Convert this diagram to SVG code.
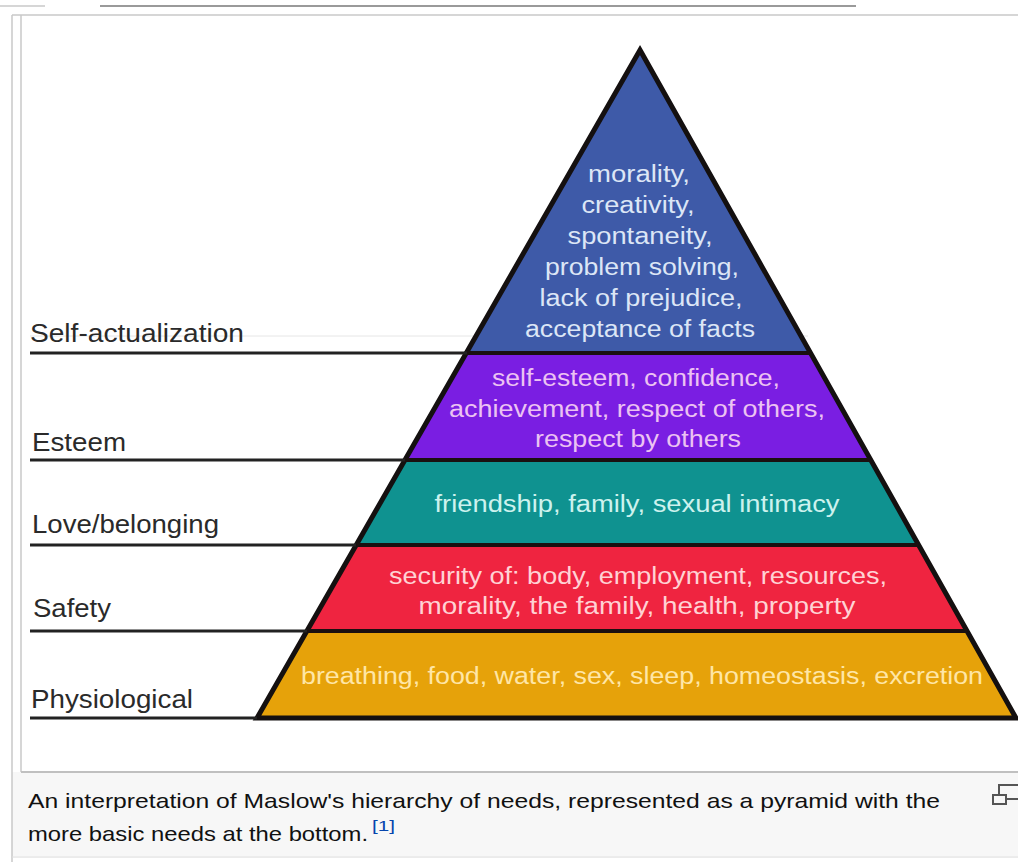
<svg xmlns="http://www.w3.org/2000/svg" width="1018" height="862" viewBox="0 0 1018 862">
<style>
.lbl{font-family:"Liberation Sans",Arial,sans-serif;font-size:26px;fill:#2a2a2a}
.in{font-family:"Liberation Sans",Arial,sans-serif;font-size:23px;text-anchor:middle}
.cap{font-family:"Liberation Sans",Arial,sans-serif;font-size:21px;fill:#111}
.frame{stroke:#c8c8c8;stroke-width:1.5;fill:none}
.lead{stroke:#222;stroke-width:3}
.sep{stroke:#1a1010;stroke-width:4}
</style>
<rect x="0" y="0" width="1018" height="862" fill="#ffffff"/>
<rect x="12" y="772" width="1006" height="86" fill="#f7f7f7"/>
<g id="frame">
<line x1="0" y1="6" x2="45" y2="6" class="frame"/>
<line x1="100" y1="6" x2="856" y2="6" stroke="#9a9a9a" stroke-width="2"/>
<line x1="12" y1="15" x2="1018" y2="15" class="frame"/>
<line x1="12" y1="15" x2="12" y2="862" class="frame"/>
<line x1="21" y1="15" x2="21" y2="772" class="frame"/>
<line x1="21" y1="772" x2="1018" y2="772" stroke="#c0c0c0" stroke-width="2"/>
<line x1="12" y1="857" x2="1018" y2="857" stroke="#e0e0e0" stroke-width="1"/>
<line x1="30" y1="336" x2="808" y2="336" stroke="#e6e6e6" stroke-width="1"/>
</g>
<g id="band-self-actualization">
<polygon points="640,50 810.6,353 466.3,353" fill="#3e5aa8"/>
<g class="in" fill="#dce6f6">
<text x="639" y="182" textLength="102" lengthAdjust="spacingAndGlyphs">morality,</text>
<text x="638" y="213" textLength="113" lengthAdjust="spacingAndGlyphs">creativity,</text>
<text x="640" y="244" textLength="145" lengthAdjust="spacingAndGlyphs">spontaneity,</text>
<text x="642" y="275" textLength="194" lengthAdjust="spacingAndGlyphs">problem solving,</text>
<text x="641" y="306" textLength="203" lengthAdjust="spacingAndGlyphs">lack of prejudice,</text>
<text x="640" y="337" textLength="230" lengthAdjust="spacingAndGlyphs">acceptance of facts</text>
</g>
</g>
<g id="band-esteem">
<polygon points="466.3,353 810.6,353 870.8,460 404.9,460" fill="#7a1ee2"/>
<g class="in" fill="#ecc2f2">
<text x="636" y="386" textLength="288" lengthAdjust="spacingAndGlyphs">self-esteem, confidence,</text>
<text x="637" y="417" textLength="376" lengthAdjust="spacingAndGlyphs">achievement, respect of others,</text>
<text x="638" y="447" textLength="206" lengthAdjust="spacingAndGlyphs">respect by others</text>
</g>
</g>
<g id="band-love">
<polygon points="404.9,460 870.8,460 918.6,545 356.2,545" fill="#0f9290"/>
<text class="in" x="637" y="512" fill="#cdf2ee" textLength="405" lengthAdjust="spacingAndGlyphs">friendship, family, sexual intimacy</text>
</g>
<g id="band-safety">
<polygon points="356.2,545 918.6,545 967,631 306.9,631" fill="#ef2440"/>
<g class="in" fill="#ffd2d4">
<text x="638" y="584" textLength="498" lengthAdjust="spacingAndGlyphs">security of: body, employment, resources,</text>
<text x="637" y="614" textLength="437" lengthAdjust="spacingAndGlyphs">morality, the family, health, property</text>
</g>
</g>
<g id="band-physiological">
<polygon points="306.9,631 967,631 1016,718 257,718" fill="#e6a20a"/>
<text class="in" x="642" y="684" fill="#ffe6a6" textLength="682" lengthAdjust="spacingAndGlyphs">breathing, food, water, sex, sleep, homeostasis, excretion</text>
</g>
<g id="connectors">
<polygon points="640,50 1016,718 257,718" fill="none" stroke="#141010" stroke-width="5" stroke-linejoin="miter"/>
<line x1="466.3" y1="353" x2="810.6" y2="353" class="sep"/>
<line x1="404.9" y1="460" x2="870.8" y2="460" class="sep"/>
<line x1="356.2" y1="545" x2="918.6" y2="545" class="sep"/>
<line x1="306.9" y1="631" x2="967" y2="631" class="sep"/>
<line x1="30" y1="353" x2="467" y2="353" class="lead"/>
<line x1="30" y1="460" x2="405" y2="460" class="lead"/>
<line x1="30" y1="545" x2="356" y2="545" class="lead"/>
<line x1="30" y1="631" x2="307" y2="631" class="lead"/>
<line x1="30" y1="718" x2="257" y2="718" class="lead"/>
</g>
<g id="labels">
<text class="lbl" x="30" y="342" textLength="214" lengthAdjust="spacingAndGlyphs">Self-actualization</text>
<text class="lbl" x="32" y="451" textLength="94" lengthAdjust="spacingAndGlyphs">Esteem</text>
<text class="lbl" x="32" y="533" textLength="187" lengthAdjust="spacingAndGlyphs">Love/belonging</text>
<text class="lbl" x="33" y="617" textLength="78" lengthAdjust="spacingAndGlyphs">Safety</text>
<text class="lbl" x="31" y="708" textLength="162" lengthAdjust="spacingAndGlyphs">Physiological</text>
</g>
<g id="caption">
<text class="cap" x="28" y="808" textLength="912" lengthAdjust="spacingAndGlyphs">An interpretation of Maslow's hierarchy of needs, represented as a pyramid with the</text>
<text class="cap" x="28" y="841" textLength="340" lengthAdjust="spacingAndGlyphs">more basic needs at the bottom.</text>
<text x="372" y="831" font-family="Liberation Sans, Arial, sans-serif" font-size="15" fill="#0645ad" textLength="23" lengthAdjust="spacingAndGlyphs">[1]</text>
</g>
<g id="magnify-icon" fill="none" stroke="#555" stroke-width="2">
<rect x="993" y="795" width="13" height="9"/>
<polyline points="999,795 999,785 1018,785"/>
<line x1="1006" y1="799" x2="1018" y2="799"/>
</g>
</svg>
